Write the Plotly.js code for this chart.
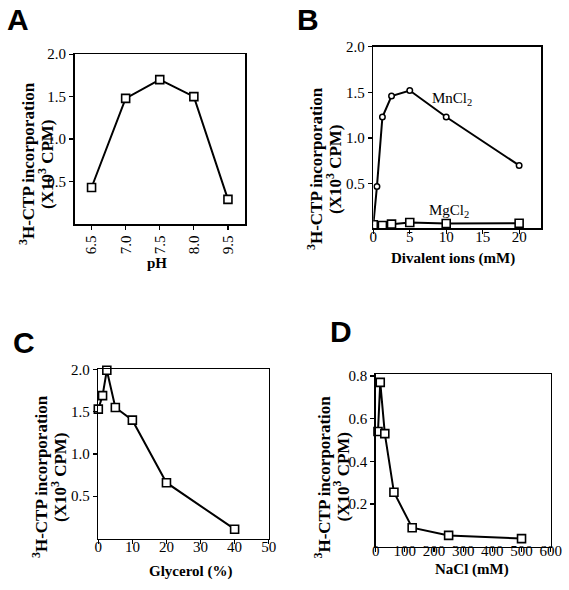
<!DOCTYPE html>
<html><head><meta charset="utf-8">
<script src="https://cdn.plot.ly/plotly-3.0.1.min.js"></script>
<style>html,body{margin:0;padding:0;background:#fff;}#plot{width:569px;height:590px;}</style>
</head><body><div id="plot"></div>
<script>
// Panel A: pH
const phLabels = ["6.5", "7.0", "7.5", "8.0", "9.5"];
const phValues = [0.43, 1.48, 1.70, 1.50, 0.29];
// Panel B: divalent ions (mM)
const ionConc = [0, 0.5, 1.25, 2.5, 5, 10, 20];
const mnValues = [0.05, 0.47, 1.23, 1.46, 1.52, 1.23, 0.70];
const mgConc = [0, 1.25, 2.5, 5, 10, 20];
const mgValues = [0.05, 0.042, 0.057, 0.075, 0.065, 0.067];
// Panel C: glycerol (%)
const glycerol = [0, 1.25, 2.5, 5, 10, 20, 40];
const glycerolValues = [1.53, 1.69, 1.99, 1.55, 1.40, 0.66, 0.11];
// Panel D: NaCl (mM)
const nacl = [7.8, 15.6, 31.25, 62.5, 125, 250, 500];
const naclValues = [0.54, 0.77, 0.53, 0.255, 0.089, 0.053, 0.038];
// tick values
const yTicksMain = [0.5, 1, 1.5, 2];
const ionTicks = [0, 5, 10, 15, 20];
const glycerolTicks = [0, 10, 20, 30, 40, 50];
const naclTicks = [0, 100, 200, 300, 400, 500, 600];
const naclYTicks = [0.2, 0.4, 0.6, 0.8];

const W = 569, H = 590;
const px = v => v / W, py = v => 1 - v / H;
const serif = "Liberation Serif";

function sq(x, y, xa, ya, clip) {
  return {x: x, y: y, xaxis: xa, yaxis: ya, type: "scatter", mode: "lines+markers",
    cliponaxis: clip, showlegend: false,
    line: {color: "#000", width: 2},
    marker: {symbol: "square", size: 8, color: "#fff", line: {color: "#000", width: 1.6}}};
}
const traces = [
  sq(phLabels, phValues, "x", "y", false),
  Object.assign(sq(ionConc, mnValues, "x2", "y2", true),
    {marker: {symbol: "circle", size: 5.5, color: "#fff", line: {color: "#000", width: 1.5}}}),
  sq(mgConc, mgValues, "x2", "y2", true),
  sq(glycerol, glycerolValues, "x3", "y3", false),
  sq(nacl, naclValues, "x4", "y4", false)
];

const tf = {family: serif, size: 15, color: "#000"};
function ax(domain, extra) {
  return Object.assign({domain: domain, showline: true, linecolor: "#000", linewidth: 1.5,
    mirror: true, ticks: "outside", ticklen: 4, tickwidth: 1.2, tickcolor: "#000",
    showgrid: false, zeroline: false, tickfont: tf, fixedrange: true}, extra);
}
// label-only x axes overlaying the framed axes so the numbers sit close to the frame
function lab(over, yPix, range, tickvals) {
  return {overlaying: over, anchor: "free", position: py(yPix), range: range, tickvals: tickvals,
    showline: false, ticks: "", showgrid: false, zeroline: false, tickfont: tf, fixedrange: true};
}
const ys = {tickvals: yTicksMain, tickformat: ".1f"};

const layout = {
  width: W, height: H, margin: {l: 0, r: 0, t: 0, b: 0},
  font: {family: serif, size: 15, color: "#000"},
  paper_bgcolor: "#fff", plot_bgcolor: "#fff", showlegend: false,
  xaxis: ax([px(74.5), px(245)], {type: "category", range: [-0.5, 4.5], tickangle: -90, anchor: "y"}),
  yaxis: ax([py(224), py(54)], Object.assign({range: [0, 2.002], anchor: "x"}, ys)),
  xaxis2: ax([px(373.3), px(541)], {range: [0, 23], tickvals: ionTicks, showticklabels: false, anchor: "y2"}),
  yaxis2: ax([py(228), py(46.7)], Object.assign({range: [0.015, 2.0], anchor: "x2"}, ys)),
  xaxis3: ax([px(98.3), px(268.7)], {range: [0, 50], tickvals: glycerolTicks, showticklabels: false, anchor: "y3"}),
  yaxis3: ax([py(538.5), py(369)], Object.assign({range: [0, 2.005], anchor: "x3"}, ys)),
  xaxis4: ax([px(375.7), px(550.7)], {range: [0, 600], tickvals: naclTicks, showticklabels: false, anchor: "y4"}),
  yaxis4: ax([py(546.7), py(374.3)], {range: [0, 0.808], tickvals: naclYTicks, tickformat: ".1f", anchor: "x4"}),
  xaxis5: lab("x2", 228 - 2.5, [0, 23], ionTicks),
  xaxis6: lab("x3", 538.5 - 2.5, [0, 50], glycerolTicks),
  xaxis7: lab("x4", 546.7 - 6.5, [0, 600], naclTicks),
  annotations: []
};
// invisible carriers so the label axes are built
traces.push({x: [], y: [], xaxis: "x5", yaxis: "y2", type: "scatter", showlegend: false});
traces.push({x: [], y: [], xaxis: "x6", yaxis: "y3", type: "scatter", showlegend: false});
traces.push({x: [], y: [], xaxis: "x7", yaxis: "y4", type: "scatter", showlegend: false});

function ann(text, x, y, font, angle) {
  layout.annotations.push({text: text, xref: "paper", yref: "paper", x: px(x), y: py(y),
    xanchor: "center", yanchor: "middle", showarrow: false, textangle: angle || 0, font: font});
}
const letterFont = {family: "Liberation Sans", size: 30, color: "#000"};
ann("<b>A</b>", 18, 19, letterFont);
ann("<b>B</b>", 308, 19.5, letterFont);
ann("<b>C</b>", 23.5, 342.5, letterFont);
ann("<b>D</b>", 341, 331.7, letterFont);

const yTitleFont = {family: serif, size: 17, color: "#000"};
const xTitleFont = {family: serif, size: 15, color: "#000"};
const yl1 = "<b><sup>3</sup>H-CTP incorporation</b>", yl2 = "<b>(X10<sup>3</sup> CPM)</b>";
[[27, 46, 164], [315, 334, 169], [40, 59, 477], [322.5, 341.5, 477]].forEach(p => {
  ann(yl1, p[0], p[2], yTitleFont, -90);
  ann(yl2, p[1], p[2], yTitleFont, -90);
});
ann("<b>pH</b>", 157, 263, xTitleFont);
ann("<b>Divalent ions (mM)</b>", 452.7, 258, xTitleFont);
ann("<b>Glycerol (%)</b>", 190, 571.7, xTitleFont);
ann("<b>NaCl (mM)</b>", 471.7, 569, xTitleFont);

const labelFont = {family: serif, size: 15, color: "#000"};
ann("MnCl<sub>2</sub>", 451.7, 99, labelFont);
ann("MgCl<sub>2</sub>", 449.3, 211, labelFont);

Plotly.newPlot("plot", traces, layout, {displayModeBar: false, staticPlot: true});
</script></body></html>
